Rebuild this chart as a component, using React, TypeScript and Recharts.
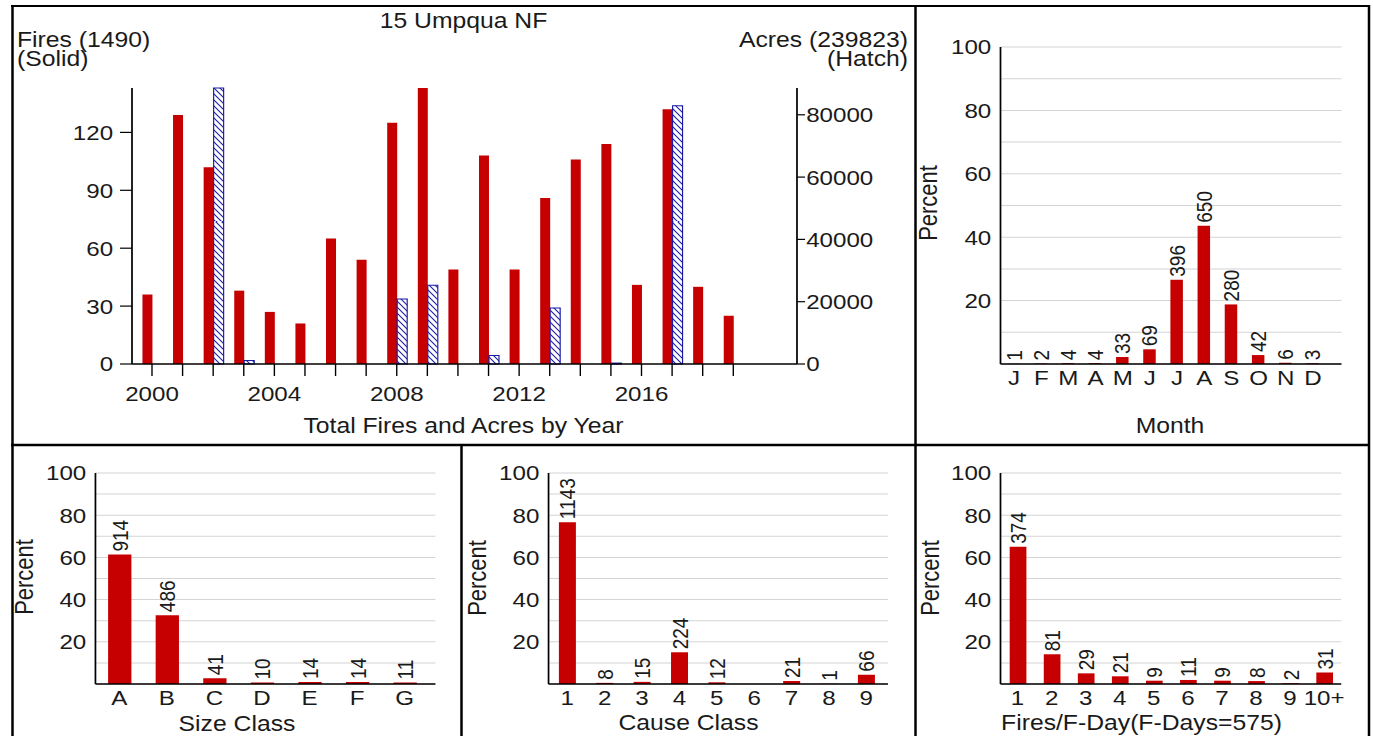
import React from 'react';
import { BarChart, Bar, XAxis, YAxis, CartesianGrid, LabelList } from 'recharts';

// Yearly totals
const YEARS = [2000, 2001, 2002, 2003, 2004, 2005, 2006, 2007, 2008, 2009, 2010, 2011, 2012, 2013, 2014, 2015, 2016, 2017, 2018, 2019];
const FIRES = [36, 129, 102, 38, 27, 21, 65, 54, 125, 143, 49, 108, 49, 86, 106, 114, 41, 132, 40, 25];
const ACRES = [0, 0, 88600, 1100, 0, 0, 0, 0, 20900, 25300, 0, 2700, 0, 18000, 0, 300, 0, 82900, 0, 0];
const FIRE_TICKS = [0, 30, 60, 90, 120];
const ACRE_TICKS = [0, 20000, 40000, 60000, 80000];

// Distributions (counts shown above bars, bars are percent of total)
const MONTHS = ['J', 'F', 'M', 'A', 'M', 'J', 'J', 'A', 'S', 'O', 'N', 'D'];
const MONTH_FIRES = [1, 2, 4, 4, 33, 69, 396, 650, 280, 42, 6, 3];
const SIZE_CLASSES = ['A', 'B', 'C', 'D', 'E', 'F', 'G'];
const SIZE_FIRES = [914, 486, 41, 10, 14, 14, 11];
const CAUSE_CLASSES = ['1', '2', '3', '4', '5', '6', '7', '8', '9'];
const CAUSE_FIRES = [1143, 8, 15, 224, 12, 0, 21, 1, 66];
const FDAY_BINS = ['1', '2', '3', '4', '5', '6', '7', '8', '9', '10+'];
const FDAY_COUNTS = [374, 81, 29, 21, 9, 11, 9, 8, 2, 31];
const PCT_TICKS = [0, 10, 20, 30, 40, 50, 60, 70, 80, 90, 100];

const RED = '#c60000';
const BLUE = '#1a1aa6';
const TEXT = '#1a1a1a';
const GRID = '#d4d4d4';
const FONT = '"Liberation Sans", Arial, Helvetica, sans-serif';

// the whole sheet is drawn narrow and stretched sideways
const STRETCH = 1.15;
const sx = (v: number) => v / STRETCH;

function VerticalCount(props: any) {
  const { x, y, width, value } = props;
  if (!value) return null;
  const cx = Number(x) + Number(width) / 2;
  const cy = Number(y) - 3;
  return (
    <text
      transform={`translate(${cx},${cy}) rotate(-90)`}
      textAnchor="start"
      dominantBaseline="central"
      fontSize={19}
      fill={TEXT}
    >
      {value}
    </text>
  );
}

function PercentChart({
  labels, counts, left, top, plotWidth, plotHeight, barSize, padRight,
}: {
  labels: string[];
  counts: number[];
  left: number;
  top: number;
  plotWidth: number;
  plotHeight: number;
  barSize: number;
  padRight: number;
}) {
  const total = counts.reduce((a, b) => a + b, 0);
  const data = labels.map((label, i) => ({ label, count: counts[i], pct: (counts[i] / total) * 100 }));
  const axisW = 50;
  const mTop = 30;
  const xAxisH = 30;
  return (
    <div style={{ position: 'absolute', left: left - axisW, top: top - mTop }}>
      <BarChart
        width={plotWidth + axisW + 4}
        height={plotHeight + mTop + xAxisH + 4}
        data={data}
        margin={{ top: mTop, right: 4, bottom: 4, left: 0 }}
        barCategoryGap={0}
      >
        <CartesianGrid horizontal vertical={false} stroke={GRID} strokeWidth={1} />
        <XAxis
          dataKey="label"
          interval={0}
          tickSize={0}
          tickMargin={6}
          height={xAxisH}
          padding={{ left: 0, right: padRight }}
          axisLine={{ stroke: '#000', strokeWidth: 1.5 }}
          tick={{ fontSize: 21, fill: TEXT }}
        />
        <YAxis
          type="number"
          domain={[0, 100]}
          ticks={PCT_TICKS}
          interval={0}
          width={axisW}
          tickSize={0}
          tickMargin={8}
          tickFormatter={(v: number) => (v > 0 && v % 20 === 0 ? String(v) : '')}
          axisLine={{ stroke: '#000', strokeWidth: 1.5 }}
          tick={{ fontSize: 21, fill: TEXT }}
        />
        <Bar dataKey="pct" fill={RED} barSize={barSize} isAnimationActive={false}>
          <LabelList dataKey="count" content={VerticalCount} />
        </Bar>
      </BarChart>
    </div>
  );
}

function FiresAcresChart() {
  const data = YEARS.map((year, i) => ({ year, fires: FIRES[i], acres: ACRES[i] }));
  const plotLeft = sx(132);
  const plotRight = sx(797);
  const leftW = 70;
  const rightW = 90;
  const width = plotRight + rightW + 10;
  return (
    <div style={{ position: 'absolute', left: 0, top: 0 }}>
      <BarChart
        width={width}
        height={445}
        data={data}
        margin={{ top: 88, right: 10, bottom: 41, left: plotLeft - leftW }}
        barGap={0}
        barCategoryGap={0}
      >
        <XAxis
          dataKey="year"
          interval={0}
          height={40}
          tickSize={12}
          tickMargin={10}
          padding={{ left: sx(4.7), right: sx(48.4) }}
          tickFormatter={(y: number) => (y % 4 === 0 ? String(y) : '')}
          axisLine={{ stroke: '#000', strokeWidth: 1.5 }}
          tickLine={{ stroke: '#000', strokeWidth: 1.2 }}
          tick={{ fontSize: 21, fill: TEXT }}
        />
        <YAxis
          yAxisId="fires"
          orientation="left"
          type="number"
          width={leftW}
          domain={[0, Math.max(...FIRES)]}
          ticks={FIRE_TICKS}
          interval={0}
          tickSize={sx(12)}
          tickMargin={6}
          axisLine={{ stroke: '#000', strokeWidth: 1.5 }}
          tickLine={{ stroke: '#000', strokeWidth: 1.2 }}
          tick={{ fontSize: 21, fill: TEXT }}
        />
        <YAxis
          yAxisId="acres"
          orientation="right"
          type="number"
          width={rightW}
          domain={[0, Math.max(...ACRES)]}
          ticks={ACRE_TICKS}
          interval={0}
          tickSize={7}
          tickMargin={1}
          axisLine={{ stroke: '#000', strokeWidth: 1.5 }}
          tickLine={{ stroke: '#000', strokeWidth: 1.2 }}
          tick={{ fontSize: 21, fill: TEXT }}
        />
        <Bar yAxisId="fires" dataKey="fires" fill={RED} barSize={sx(10)} isAnimationActive={false} />
        <Bar
          yAxisId="acres"
          dataKey="acres"
          fill="url(#acreHatch)"
          stroke={BLUE}
          strokeWidth={1}
          barSize={sx(10)}
          isAnimationActive={false}
        />
      </BarChart>
    </div>
  );
}

function Frame() {
  const W = sx(1373);
  const vLine = 2.5 / STRETCH;
  const percent = (x: number, y: number) => (
    <text
      transform={`translate(${sx(x)},${y}) rotate(-90)`}
      textAnchor="middle"
      dominantBaseline="central"
      fontSize={22}
      fill={TEXT}
    >
      Percent
    </text>
  );
  return (
    <svg
      width={W}
      height={736}
      style={{ position: 'absolute', left: 0, top: 0, pointerEvents: 'none' }}
      fontFamily={FONT}
    >
      <defs>
        <pattern id="acreHatch" patternUnits="userSpaceOnUse" width={sx(6)} height={6}>
          <rect width={sx(6)} height={6} fill="#fff" />
          <path
            d={`M${sx(-1)},-1 L${sx(7)},7 M${sx(-1)},5 L${sx(1)},7 M${sx(5)},-1 L${sx(7)},1`}
            stroke={BLUE}
            strokeWidth={1}
          />
        </pattern>
      </defs>

      {/* panel borders */}
      <g stroke="#000" fill="none">
        <line x1={sx(11)} y1={6} x2={sx(1370)} y2={6} strokeWidth={2.2} />
        <line x1={sx(11)} y1={445} x2={sx(1370)} y2={445} strokeWidth={2.5} />
        <line x1={sx(12.5)} y1={5} x2={sx(12.5)} y2={736} strokeWidth={vLine} />
        <line x1={sx(915.5)} y1={5} x2={sx(915.5)} y2={736} strokeWidth={vLine} />
        <line x1={sx(1369)} y1={5} x2={sx(1369)} y2={736} strokeWidth={vLine} />
        <line x1={sx(461.5)} y1={445} x2={sx(461.5)} y2={736} strokeWidth={vLine} />
      </g>

      <g fill={TEXT} fontSize={21.5}>
        <text x={sx(463.5)} y={28} textAnchor="middle">15 Umpqua NF</text>
        <text x={sx(17)} y={47}>Fires (1490)</text>
        <text x={sx(17)} y={66}>(Solid)</text>
        <text x={sx(908)} y={47} textAnchor="end">Acres (239823)</text>
        <text x={sx(908)} y={66} textAnchor="end">(Hatch)</text>
        <text x={sx(463.5)} y={433} textAnchor="middle">Total Fires and Acres by Year</text>
        <text x={sx(1170)} y={433} textAnchor="middle">Month</text>
        <text x={sx(237)} y={731} textAnchor="middle">Size Class</text>
        <text x={sx(688.5)} y={730} textAnchor="middle">Cause Class</text>
        <text x={sx(1141.5)} y={730} textAnchor="middle">Fires/F-Day(F-Days=575)</text>
      </g>
      {percent(928, 203)}
      {percent(24, 577)}
      {percent(477.5, 578)}
      {percent(930.5, 578)}
    </svg>
  );
}

export default function App() {
  return (
    <div
      style={{
        position: 'absolute',
        left: 0,
        top: 0,
        width: sx(1373),
        height: 736,
        background: '#fff',
        fontFamily: FONT,
        transform: `scaleX(${STRETCH})`,
        transformOrigin: '0 0',
        overflow: 'hidden',
      }}
    >
      <FiresAcresChart />
      <PercentChart
        labels={MONTHS}
        counts={MONTH_FIRES}
        left={sx(1001)}
        top={47}
        plotWidth={sx(341)}
        plotHeight={317}
        barSize={sx(12.5)}
        padRight={sx(15)}
      />
      <PercentChart
        labels={SIZE_CLASSES}
        counts={SIZE_FIRES}
        left={sx(95)}
        top={473.3}
        plotWidth={sx(340)}
        plotHeight={211}
        barSize={sx(23.3)}
        padRight={sx(7)}
      />
      <PercentChart
        labels={CAUSE_CLASSES}
        counts={CAUSE_FIRES}
        left={sx(548.3)}
        top={473.3}
        plotWidth={sx(339.4)}
        plotHeight={211}
        barSize={sx(17)}
        padRight={sx(3)}
      />
      <PercentChart
        labels={FDAY_BINS}
        counts={FDAY_COUNTS}
        left={sx(1001)}
        top={473.3}
        plotWidth={sx(340.7)}
        plotHeight={211}
        barSize={sx(16.7)}
        padRight={0}
      />
      <Frame />
    </div>
  );
}
